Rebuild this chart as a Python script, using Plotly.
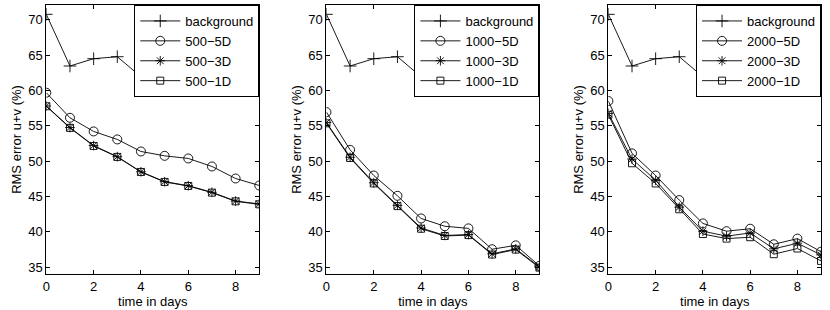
import plotly.graph_objects as go

days = list(range(10))
background = [70.75, 63.45, 64.48, 64.76, 61.93, 62.0, 61.93, 61.08, 61.84, 60.85]

s500_5d = [59.67, 56.13, 54.2, 53.07, 51.37, 50.75, 50.38, 49.25, 47.55, 46.56]
s500_3d = [57.8, 54.75, 52.2, 50.63, 48.5, 47.1, 46.53, 45.6, 44.36, 43.95]
s500_1d = [57.76, 54.7, 52.15, 50.6, 48.47, 47.06, 46.49, 45.55, 44.32, 43.9]

s1000_5d = [56.93, 51.6, 47.97, 45.1, 41.9, 40.8, 40.5, 37.55, 38.1, 35.2]
s1000_3d = [55.45, 50.55, 46.95, 43.75, 40.55, 39.5, 39.62, 36.9, 37.6, 35.05]
s1000_1d = [55.35, 50.45, 46.85, 43.65, 40.45, 39.42, 39.55, 36.8, 37.5, 34.95]

s2000_5d = [58.5, 51.1, 47.97, 44.5, 41.2, 40.1, 40.45, 38.25, 39.05, 37.2]
s2000_3d = [56.75, 50.3, 47.3, 43.5, 40.1, 39.4, 39.85, 37.6, 38.4, 36.75]
s2000_1d = [56.55, 49.7, 46.85, 43.2, 39.7, 39.05, 39.25, 36.85, 37.65, 35.9]

panels = [
    ("500", s500_5d, s500_3d, s500_1d),
    ("1000", s1000_5d, s1000_3d, s1000_1d),
    ("2000", s2000_5d, s2000_3d, s2000_1d),
]

W, H = 830, 310
domains = [(42.5, 256.5), (324.0, 538.0), (607.3, 821.0)]

FONT = "Liberation Sans, Arial, Helvetica, sans-serif"
fig = go.Figure()

symbols = ["cross-thin-open", "circle-open", "asterisk-open", "square-open"]
sizes = [9, 9, 8, 7]

for i, (n, d5, d3, d1) in enumerate(panels):
    ax = "" if i == 0 else str(i + 1)
    leg = "legend" if i == 0 else f"legend{i + 1}"
    series = [("background", background), (f"{n}\u22125D", d5), (f"{n}\u22123D", d3), (f"{n}\u22121D", d1)]
    for (name, vals), sym, sz in zip(series, symbols, sizes):
        fig.add_trace(go.Scatter(
            x=days, y=vals, name=name, mode="lines+markers",
            line=dict(color="black", width=0.9),
            marker=dict(symbol=sym, size=sz, color="black", line=dict(color="black", width=0.9)),
            xaxis="x" + ax, yaxis="y" + ax, legend=leg,
        ))

axis_common = dict(
    showline=True, linecolor="black", linewidth=1, mirror="ticks",
    ticks="inside", ticklen=4, tickcolor="black", tickwidth=1,
    showgrid=False, zeroline=False,
    tickfont=dict(family=FONT, size=13, color="black"),
)

layout = dict(
    width=W, height=H,
    margin=dict(l=0, r=0, t=5, b=36),
    plot_bgcolor="white", paper_bgcolor="white",
    font=dict(family=FONT, size=13, color="black"),
)

for i, (x0, x1) in enumerate(domains):
    ax = "" if i == 0 else str(i + 1)
    layout["xaxis" + ax] = dict(
        domain=[x0 / W, x1 / W], range=[0, 9], anchor="y" + ax,
        tickvals=[0, 2, 4, 6, 8],
        title=dict(text="time in days", standoff=2, font=dict(family=FONT, size=13)),
        **axis_common,
    )
    layout["yaxis" + ax] = dict(
        range=[34.05, 72.07], anchor="x" + ax,
        tickvals=[35, 40, 45, 50, 55, 60, 65, 70],
        title=dict(text="RMS error u+v (%)", standoff=3, font=dict(family=FONT, size=13)),
        **axis_common,
    )
    leg = "legend" if i == 0 else f"legend{i + 1}"
    layout[leg] = dict(
        x=x1 / W, y=1, xanchor="right", yanchor="top",
        bgcolor="white", bordercolor="black", borderwidth=1,
        font=dict(family=FONT, size=13, color="black"),
        itemwidth=40, tracegroupgap=0,
    )

fig.update_layout(**layout)
fig.write_html(
    "out.html",
    config={"displayModeBar": False},
    post_script="document.body.style.margin='0';document.body.style.padding='0';",
)
